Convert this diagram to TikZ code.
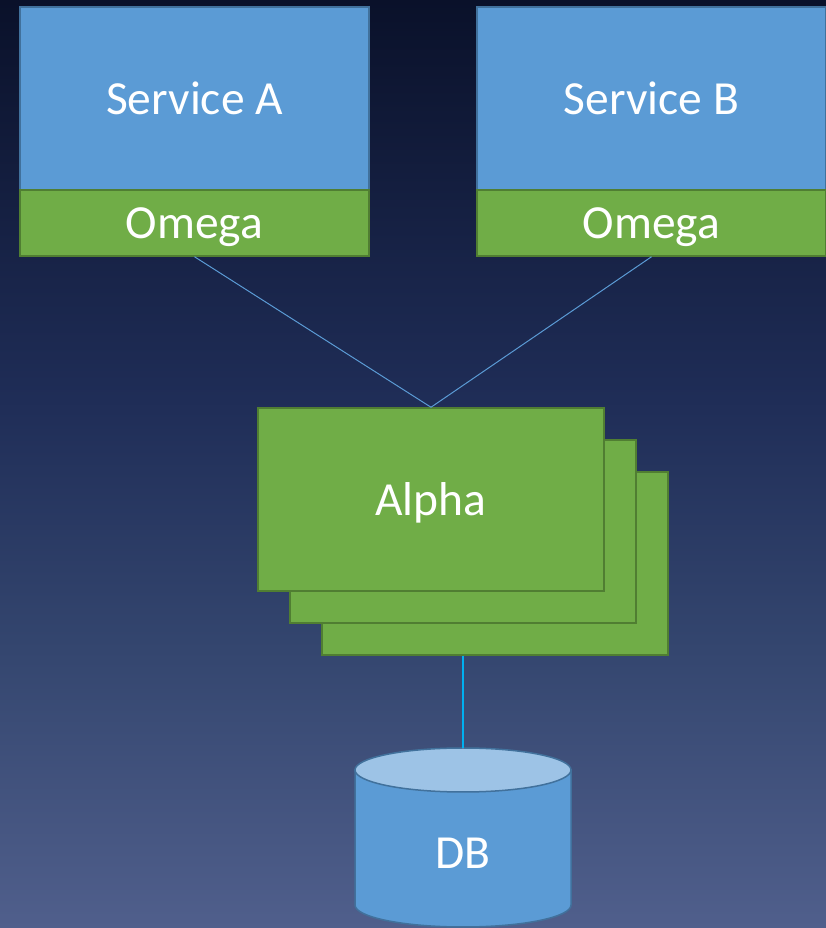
\documentclass[tikz,border=0pt]{standalone}
\usepackage{fontspec}
\setmainfont{Carlito}
\definecolor{bgtop}{RGB}{10,17,42}
\definecolor{bgmidA}{RGB}{31,45,87}
\definecolor{bgmidB}{RGB}{52,70,111}
\definecolor{bgbot}{RGB}{80,95,140}
\definecolor{svcblue}{HTML}{5B9BD5}
\definecolor{svcedge}{HTML}{41719C}
\definecolor{okgreen}{HTML}{70AD47}
\definecolor{okedge}{HTML}{507E32}
\definecolor{dbtop}{HTML}{9DC3E6}
\definecolor{linkblue}{HTML}{5B9BD5}
\definecolor{dblink}{HTML}{00B0F0}
% the filled path spans the 25bp--75bp band of the shading
\pgfdeclareverticalshading{bgshade}{100bp}{color(0bp)=(bgbot); color(25bp)=(bgbot); color(40bp)=(bgmidB); color(53.5bp)=(bgmidA); color(75bp)=(bgtop); color(100bp)=(bgtop)}
\tikzset{
  bigtext/.style={text=white, font=\fontsize{47.5}{52}\selectfont, text depth=0pt},
  svcbox/.style={rectangle, fill=svcblue, draw=svcedge, line width=1.5pt, minimum width=349pt, minimum height=183pt, inner sep=0pt, bigtext},
  omegabox/.style={rectangle, fill=okgreen, draw=okedge, line width=1.5pt, minimum width=349pt, minimum height=66pt, inner sep=0pt, bigtext},
  alphabox/.style={rectangle, fill=okgreen, draw=okedge, line width=1.5pt, minimum width=346pt, minimum height=183pt, inner sep=0pt, bigtext},
  thinlink/.style={draw=linkblue, line width=1pt},
  dbline/.style={draw=dblink, line width=1.5pt},
  dbbody/.style={fill=svcblue, draw=svcedge, line width=1.5pt},
  dbcap/.style={fill=dbtop, draw=svcedge, line width=1.5pt}
}
\begin{document}
\begin{tikzpicture}[x=1pt,y=1pt]
  % background
  \path[shading=bgshade] (0,0) rectangle (826,928);
  \useasboundingbox (0,0) rectangle (826,928);

  % services with their Omega sidecars
  \node[svcbox] (svcA) at (194.5,829.5) {Service A};
  \node[omegabox] (omegaA) at (194.5,705) {Omega};
  \node[svcbox] (svcB) at (651.5,829.5) {Service B};
  \node[omegabox] (omegaB) at (651.5,705) {Omega};

  % stacked Alpha instances
  \node[alphabox] (alpha3) at (495,364.5) {};
  \node[alphabox] (alpha2) at (463,396.5) {};
  \node[alphabox] (alpha1) at (431,428.5) {Alpha};

  % database cylinder
  \coordinate (dbt) at (463,180);
  \path[dbbody] (355,158) -- (355,23) arc[start angle=180, end angle=360, x radius=108, y radius=22] -- (571,158) -- cycle;
  \draw[dbcap] (463,158) ellipse[x radius=108, y radius=22];
  \node[bigtext] (db) at (463,75) {DB};

  % connectors
  \draw[thinlink] (omegaA.south) -- (alpha1.north);
  \draw[thinlink] (omegaB.south) -- (alpha1.north);
  \draw[dbline] (alpha3.south -| alpha2.south) -- (dbt);
\end{tikzpicture}
\end{document}
